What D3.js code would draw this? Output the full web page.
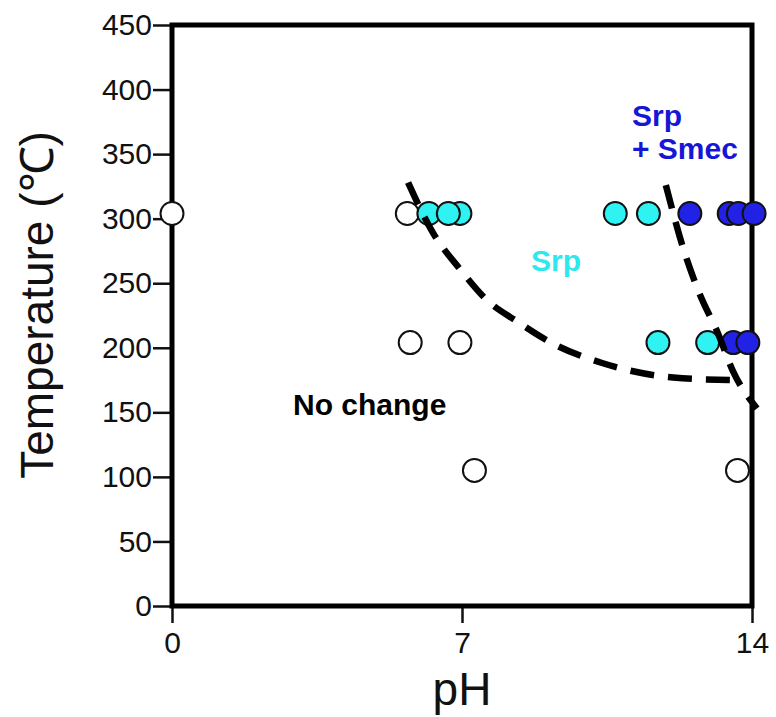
<!DOCTYPE html>
<html>
<head>
<meta charset="utf-8">
<script src="https://cdn.jsdelivr.net/npm/d3@7"></script>
<style>
  body { margin: 0; background: #fff; }
  svg text { font-family: "Liberation Sans", Arial, sans-serif; }
</style>
</head>
<body>
<div id="chart"></div>
<script>
// tick labels
const xTicks = [0, 7, 14];
const yTicks = [0, 50, 100, 150, 200, 250, 300, 350, 400, 450];

// experiments: [pH, temperature]
const noChange = [[0, 304], [5.68, 304], [5.75, 204], [6.95, 204], [7.3, 105], [13.65, 105]];
const srp = [[6.2, 304], [6.95, 304], [6.67, 304], [10.7, 304], [11.5, 304], [11.73, 204], [12.93, 204]];
const srpSmec = [[12.5, 304], [13.45, 304], [13.67, 304], [14.05, 304], [13.55, 204], [13.9, 204]];

// boundaries (dashed)
const boundarySrp = [[5.7, 328], [6.3, 289], [6.95, 261], [7.6, 237], [8.35, 220], [9.15, 204], [10.4, 188], [11.1, 182], [12.1, 177], [13.5, 175]];
const boundarySmec = [[11.92, 326], [12.35, 276], [12.72, 243], [13.18, 211], [13.54, 182], [14.12, 153]];

const width = 776, height = 717;
const svg = d3.select('#chart').append('svg').attr('width', width).attr('height', height);

const x = d3.scaleLinear().domain([0, 14]).range([172, 752]);
const y = d3.scaleLinear().domain([0, 450]).range([606, 25]);

// axes
const yAxis = svg.append('g')
    .attr('transform', 'translate(' + x(0) + ',0)')
    .call(d3.axisLeft(y).tickValues(yTicks).tickSize(19).tickPadding(1));
const xAxis = svg.append('g')
    .attr('transform', 'translate(0,' + y(0) + ')')
    .call(d3.axisBottom(x).tickValues(xTicks).tickSize(17).tickPadding(9));

[yAxis, xAxis].forEach(a => {
    a.select('.domain').remove();
    a.selectAll('.tick line').attr('stroke', '#111').attr('stroke-width', 2.5);
    a.selectAll('.tick text')
        .attr('fill', '#111')
        .style('font-size', '30px')
        .style('font-family', '"Liberation Sans", Arial, sans-serif');
});

// frame
svg.append('rect')
    .attr('x', x(0)).attr('y', y(450))
    .attr('width', x(14) - x(0)).attr('height', y(0) - y(450))
    .attr('fill', 'none').attr('stroke', '#000').attr('stroke-width', 5);

// points
function drawPoints(data, fill) {
    svg.append('g').selectAll('circle')
        .data(data).enter().append('circle')
        .attr('cx', d => x(d[0]))
        .attr('cy', d => y(d[1]))
        .attr('r', 11.5)
        .attr('fill', fill)
        .attr('stroke', '#111')
        .attr('stroke-width', 2);
}
drawPoints(noChange, '#fff');
drawPoints(srp, '#2ff2f2');
drawPoints(srpSmec, '#2222e6');

// dashed boundaries
const line = d3.line()
    .x(d => x(d[0]))
    .y(d => y(d[1]))
    .curve(d3.curveMonotoneX);

[boundarySrp, boundarySmec].forEach(b => {
    svg.append('path').datum(b)
        .attr('fill', 'none')
        .attr('stroke', '#000')
        .attr('stroke-width', 6.5)
        .attr('stroke-dasharray', '24,14')
        .attr('d', line);
});

// region labels
svg.append('text')
    .attr('x', 293).attr('y', 415)
    .text('No change')
    .style('font-size', '30px')
    .attr('font-weight', 'bold')
    .attr('fill', '#000');

svg.append('text')
    .attr('x', 531).attr('y', 271)
    .text('Srp')
    .style('font-size', '30px')
    .attr('font-weight', 'bold')
    .attr('fill', '#2ee8ee');

svg.append('text')
    .attr('x', 632).attr('y', 126)
    .style('font-size', '30px')
    .attr('font-weight', 'bold')
    .attr('fill', '#1616d6')
    .selectAll('tspan')
    .data(['Srp', '+ Smec'])
    .enter().append('tspan')
    .attr('x', 632)
    .attr('dy', (d, i) => i === 0 ? 0 : 33)
    .text(d => d);

// axis titles
svg.append('text')
    .attr('transform', 'translate(53,305) rotate(-90)')
    .attr('text-anchor', 'middle')
    .style('font-size', '46px')
    .attr('fill', '#111')
    .text('Temperature (℃)');

svg.append('text')
    .attr('x', x(7)).attr('y', 705)
    .attr('text-anchor', 'middle')
    .style('font-size', '46px')
    .attr('fill', '#111')
    .text('pH');
</script>
</body>
</html>
